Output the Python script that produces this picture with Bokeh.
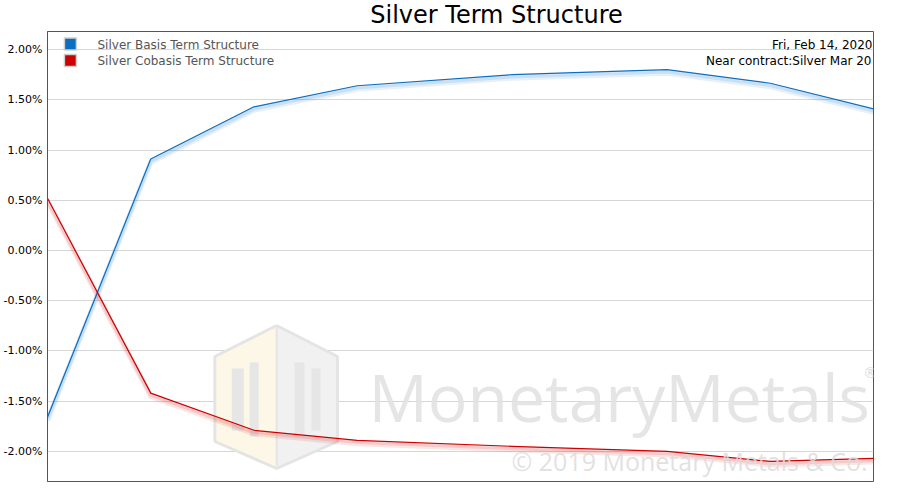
from bokeh.plotting import figure
from bokeh.layouts import column
from bokeh.models import Range1d, FixedTicker, PrintfTickFormatter, Label
from bokeh.embed import file_html
from bokeh.resources import INLINE

# ---------------- data ----------------
contracts = ["Mar 20", "May 20", "Jul 20", "Sep 20", "Dec 20", "Mar 21", "May 21", "Jul 21"]
months_out = [0, 2, 4, 6, 9, 12, 14, 16]
basis = [-1.66, 0.91, 1.43, 1.64, 1.75, 1.80, 1.665, 1.41]
cobasis = [0.52, -1.42, -1.79, -1.89, -1.95, -2.00, -2.10, -2.07]
y_ticks = [-2.0, -1.5, -1.0, -0.5, 0.0, 0.5, 1.0, 1.5, 2.0]
series_names = ["Silver Basis Term Structure", "Silver Cobasis Term Structure"]
series_colors = ["#0a6fc2", "#cc0000"]
title_text = "Silver Term Structure"
date_text = "Fri, Feb 14, 2020"
near_text = "Near contract:Silver Mar 20"

# ---------------- layout ----------------
W = 900
TH = 31                     # title strip height
H = 500 - TH
BL, BR, BT, BB = 44, 27, 0, 19
FW = W - BL - BR
FH = H - BT - BB
X0, X1 = 0, 16
Y0, Y1 = -2.30, 2.18
DJ = 0.346   # DejaVu Sans: label anchor offset (em) for baseline placement
OS = 0.388   # Open Sans


# helpers mapping reference-picture pixel positions (frame 44..873 x 31..481)
def rx(px):
    return X0 + (px - 44) / 829 * (X1 - X0)


def ry(py):
    return Y1 - (py - 31) / 450 * (Y1 - Y0)


def sx(px):
    return (px - 44) / 829 * FW


def sy(py):
    return (481 - py) / 450 * FH


# ---------------- title strip ----------------
t = figure(width=W, height=TH, output_backend="svg", toolbar_location=None,
           title=None, x_range=Range1d(0, W), y_range=Range1d(0, TH),
           min_border=0, x_axis_location=None, y_axis_location=None)
t.outline_line_color = None
t.xgrid.visible = False
t.ygrid.visible = False
t.add_layout(Label(x=449, y=(TH - 22.6) + DJ * 24, x_units="screen", y_units="screen",
                   text=title_text, text_font="DejaVu Sans", text_font_size="24px",
                   text_color="#000000", text_align="center", text_baseline="alphabetic"))

# ---------------- main plot ----------------
p = figure(width=W, height=H, output_backend="svg", toolbar_location=None,
           title=None, x_range=Range1d(X0, X1), y_range=Range1d(Y0, Y1),
           min_border_left=BL, min_border_right=BR, min_border_top=BT,
           min_border_bottom=BB)
p.xaxis.visible = False
p.xgrid.visible = False
p.ygrid.grid_line_color = "#d6d6d6"
p.ygrid.grid_line_width = 1
p.yaxis.ticker = FixedTicker(ticks=y_ticks)
p.yaxis.formatter = PrintfTickFormatter(format="%.2f%%")
p.yaxis.major_label_text_font = "DejaVu Sans"
p.yaxis.major_label_text_font_size = "11px"
p.yaxis.major_label_text_color = "#000000"
p.yaxis.major_label_standoff = 5
p.yaxis.major_tick_out = 0
p.yaxis.major_tick_in = 0
p.yaxis.major_tick_line_color = None
p.yaxis.minor_tick_line_color = None
p.yaxis.axis_line_color = "#555555"
p.outline_line_color = "#555555"
p.outline_line_width = 1
p.background_fill_color = "white"
p.border_fill_color = "white"

# ---------------- watermark logo (decoration) ----------------
left_face_x = [rx(v) for v in (274, 212, 212, 274)]
left_face_y = [ry(v) for v in (325, 356, 441, 468)]
right_face_x = [rx(v) for v in (274, 335, 335, 274)]
right_face_y = [ry(v) for v in (325, 356, 441, 468)]
p.patch(left_face_x, left_face_y, fill_color="#fcf7e6", line_color=None)
p.patch(right_face_x, right_face_y, fill_color="#f1f1f1", line_color=None)
hex_x = [rx(v) for v in (274, 335, 335, 274, 212, 212, 274)]
hex_y = [ry(v) for v in (325, 356, 441, 468, 441, 356, 325)]
p.line(hex_x, hex_y, line_color="#e4e4e4", line_width=3)
p.line([rx(274), rx(274)], [ry(327), ry(466)], line_color="#e4e4e4", line_width=2)
for bx0, bx1, by0, by1 in ((229, 241, 368, 430), (247, 256, 362, 436),
                           (292, 302, 362, 436), (309, 318, 368, 430)):
    p.quad(left=rx(bx0), right=rx(bx1), top=ry(by0), bottom=ry(by1),
           fill_color="#e6e6e6", line_color=None)

# ---------------- series ----------------
for vals, col in zip([basis, cobasis], series_colors):
    p.line(months_out, [v - 0.035 for v in vals], line_color=col, line_width=5,
           line_alpha=0.1, line_join="round")
    p.line(months_out, [v - 0.018 for v in vals], line_color=col, line_width=4,
           line_alpha=0.12, line_join="round")
    p.line(months_out, vals, line_color=col, line_width=1.2, line_join="round")

# ---------------- legend (manual) ----------------
for i, (name, col) in enumerate(zip(series_names, series_colors)):
    cy = 43.5 + 16.5 * i
    p.scatter([rx(67)], [ry(cy)], marker="square", size=12, fill_color=col,
              line_color="#cfcfcf", line_width=1.5)
    p.add_layout(Label(x=sx(94), y=sy(cy + 4.8) + DJ * 12, x_units="screen", y_units="screen",
                       text=name, text_font="DejaVu Sans", text_font_size="12px",
                       text_color="#555555", text_baseline="alphabetic"))

# ---------------- texts ----------------
p.add_layout(Label(x=sx(869), y=sy(48.3) + DJ * 12, x_units="screen", y_units="screen",
                   text=date_text, text_font="DejaVu Sans", text_font_size="12px",
                   text_color="#000000", text_align="right", text_baseline="alphabetic"))
p.add_layout(Label(x=sx(868), y=sy(64.5) + DJ * 12, x_units="screen", y_units="screen",
                   text=near_text, text_font="DejaVu Sans", text_font_size="12px",
                   text_color="#000000", text_align="right", text_baseline="alphabetic"))

# watermark text
p.add_layout(Label(x=sx(365), y=sy(421) + OS * 66, x_units="screen", y_units="screen",
                   text="MonetaryMetals", text_font="Open Sans", text_font_size="66px",
                   text_color="#e2e2e2", text_alpha=0.9, text_baseline="alphabetic"))
p.add_layout(Label(x=sx(861), y=sy(372), x_units="screen", y_units="screen",
                   text="®", text_font="Open Sans", text_font_size="14px",
                   text_color="#dedede", text_baseline="alphabetic"))
p.add_layout(Label(x=sx(864), y=sy(470) + OS * 25, x_units="screen", y_units="screen",
                   text="© 2019 Monetary Metals & Co.", text_font="Open Sans",
                   text_font_size="25px", text_color="#dcdcdc", text_alpha=0.85,
                   text_align="right", text_baseline="alphabetic"))

layout = column(t, p, spacing=0)
open("out.html", "w").write(file_html(layout, INLINE))
